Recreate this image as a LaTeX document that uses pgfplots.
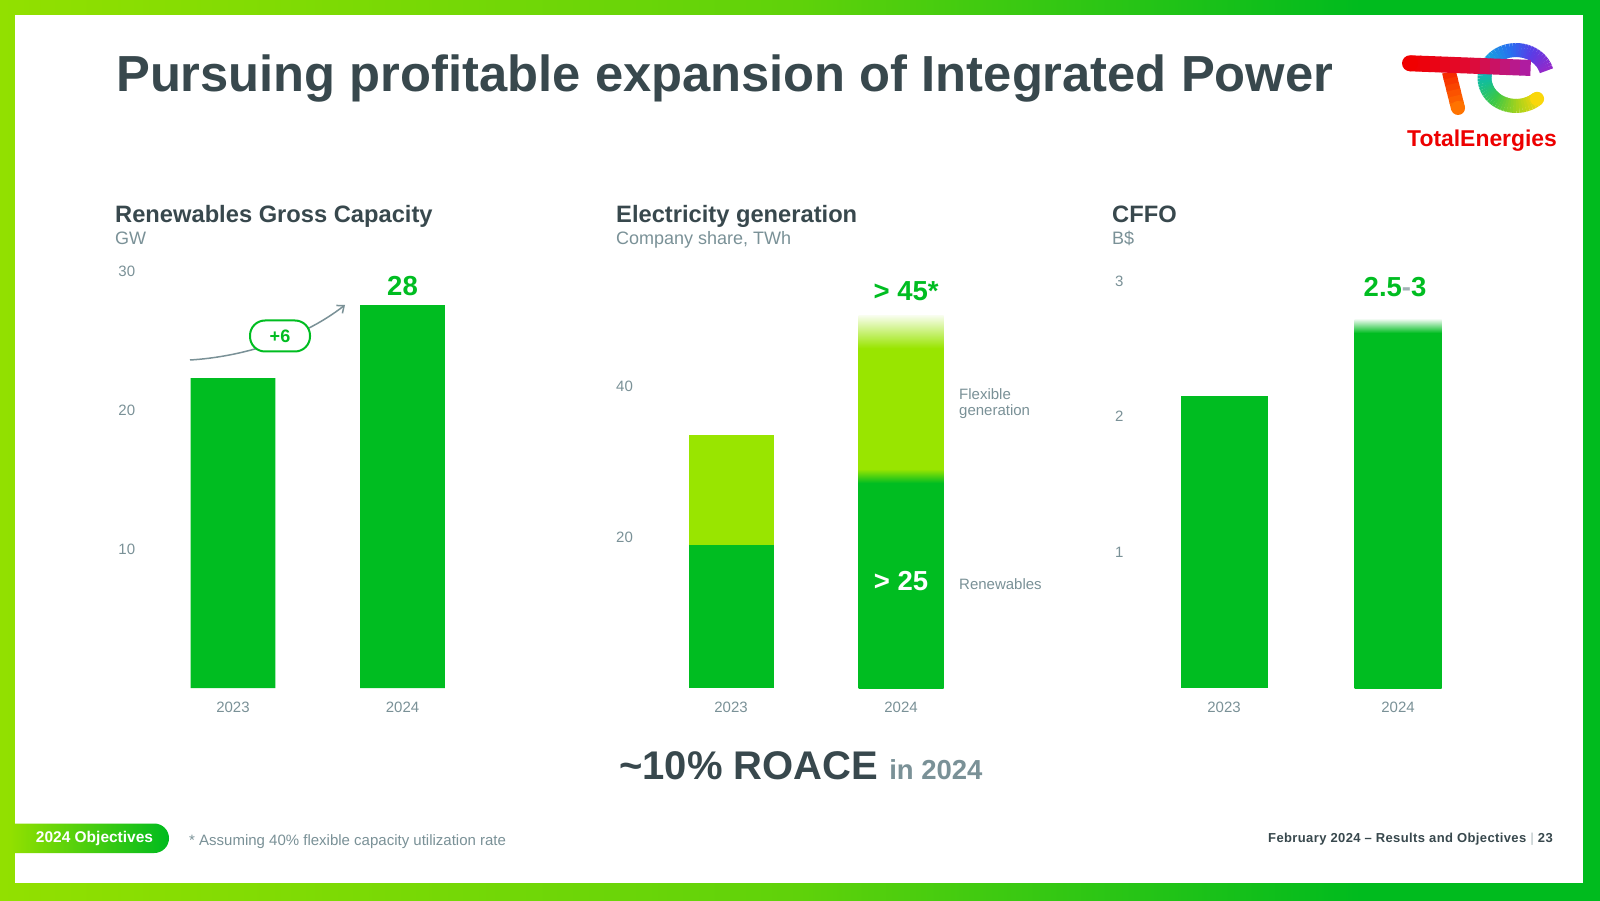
\documentclass[border=0pt]{standalone}
\usepackage{fontspec}
\setmainfont{Liberation Sans}
\newfontfamily\footfont[LetterSpace=3]{Liberation Sans}
\usepackage{pgfplots}
\pgfplotsset{compat=1.18}
\usetikzlibrary{arrows.meta}

\definecolor{G}{RGB}{0,189,33}
\definecolor{LG}{RGB}{153,229,0}
\definecolor{TD}{RGB}{56,72,77}
\definecolor{TG}{RGB}{122,145,151}
\definecolor{BL}{RGB}{146,224,0}
\definecolor{BM}{RGB}{95,210,10}
\definecolor{BR}{RGB}{0,187,30}
\definecolor{TRed}{RGB}{237,0,0}
\colorlet{LGf}{LG!8!white}
\colorlet{Gf}{G!12!white}
\definecolor{eA}{RGB}{150,40,200}
\definecolor{eB}{RGB}{90,60,230}
\definecolor{eC}{RGB}{40,110,240}
\definecolor{eD}{RGB}{20,170,220}
\definecolor{eE}{RGB}{20,190,150}
\definecolor{eF}{RGB}{60,200,70}
\definecolor{eG}{RGB}{160,210,30}
\definecolor{eH}{RGB}{250,215,10}
\definecolor{cA}{RGB}{240,0,0}
\definecolor{cB}{RGB}{225,10,50}
\definecolor{cC}{RGB}{170,30,170}
\definecolor{sA}{RGB}{245,35,0}
\definecolor{sB}{RGB}{255,115,0}

\pgfdeclareverticalshading{elec24}{100bp}{color(0bp)=(G); color(25bp)=(G); color(52.54bp)=(G); color(54.41bp)=(LG); color(70.64bp)=(LG); color(75bp)=(LGf); color(100bp)=(LGf)}
\pgfdeclareverticalshading{cffo24}{100bp}{color(0bp)=(G); color(25bp)=(G); color(73.23bp)=(G); color(75bp)=(Gf); color(100bp)=(Gf)}
\pgfdeclarehorizontalshading{frame}{100bp}{color(0bp)=(BL); color(25bp)=(BL); color(50bp)=(BM); color(67.5bp)=(BR); color(100bp)=(BR)}

\pgfplotsset{
  myaxis/.style={
    scale only axis, anchor=south west, clip=false,
    xmin=-0.5, xmax=1.5, ymin=0,
    axis x line*=bottom, axis y line*=left,
    axis line style={draw=none}, tick style={draw=none}, major tick length=0pt,
    xtick={0,1}, xticklabels={2023,2024},
    /pgf/number format/assume math mode=true,
    xticklabel style={anchor=center, yshift=-19pt, inner sep=0pt, text=TG, font=\fontsize{15}{15}\selectfont},
    yticklabel style={anchor=west, inner sep=0pt, text=TG, font=\fontsize{15}{15}\selectfont},
  },
  gbar/.style={ybar, bar width=0.5, bar shift=0pt, draw=none},
}

\begin{document}
\begin{tikzpicture}[x=1pt, y=1pt]
% frame
\shade[shading=frame] (0,0) rectangle (1600,900);
\fill[white] (15,17) rectangle (1583,885);
\coordinate (A1) at (148.25,212);
\coordinate (A2) at (646,212);
\coordinate (A3) at (1137,212);

% title
\node[anchor=base west, inner sep=0pt, text=TD, font=\bfseries\fontsize{50.7}{55}\selectfont] at (116,808) {Pursuing profitable expansion of Integrated Power};

% logo
\foreach \k in {0,...,5}{
  \pgfmathsetmacro\p{100-100*(\k+0.5)/6}
  \pgfmathsetmacro\ya{828-6*\k}
  \pgfmathsetmacro\yb{828-6*(\k+1)-0.6}
  \pgfmathsetmacro\xa{1449+1.5*\k}
  \pgfmathsetmacro\xb{1449+1.5*(\k+1)}
  \draw[line width=14pt, color=sA!\p!sB] (\xa,\ya) -- (\xb,\yb);
}
\fill[sB] (1458,792) circle (7pt);
\foreach \sa/\ea/\ca/\cb in {15/60/eA/eB, 60/100/eB/eC, 100/150/eC/eD, 150/190/eD/eE, 190/230/eE/eF, 230/270/eF/eG, 270/312/eG/eH}{
  \foreach \k in {0,...,7}{
    \pgfmathsetmacro\s{\sa+(\ea-\sa)*\k/8}
    \pgfmathsetmacro\e{\sa+(\ea-\sa)*(\k+1)/8+0.8}
    \pgfmathsetmacro\p{100-100*(\k+0.5)/8}
    \draw[line width=14pt, color=\ca!\p!\cb] (1516,822) ++(\s:31.5 and 28) arc[start angle=\s, end angle=\e, x radius=31.5, y radius=28];
  }
}
\fill[eH] (1516,822) ++(312:31.5 and 28) circle (7pt);
\foreach \k in {0,...,11}{
  \pgfmathsetmacro\xa{1410+10*\k}
  \pgfmathsetmacro\xb{1410+10*(\k+1)+0.6}
  \pgfmathsetmacro\ya{836.7-0.0385*10*\k}
  \pgfmathsetmacro\yb{836.7-0.0385*(10*(\k+1)+0.6)}
  \pgfmathsetmacro\p{\k<6 ? 100-100*(\k+0.5)/6 : 100-100*(\k-6+0.5)/6}
  \ifnum\k<6
    \draw[line width=16pt, color=cA!\p!cB] (\xa,\ya) -- (\xb,\yb);
  \else
    \draw[line width=16pt, color=cB!\p!cC] (\xa,\ya) -- (\xb,\yb);
  \fi
}
\fill[cA] (1410,836.7) circle (8pt);
\node[anchor=base west, inner sep=0pt, text=TRed, font=\bfseries\fontsize{22.9}{24}\selectfont] at (1407,753) {TotalEnergies};

% section titles
\node[anchor=base west, inner sep=0pt, text=TD, font=\bfseries\fontsize{23.7}{26}\selectfont] at (115,677) {Renewables Gross Capacity};
\node[anchor=base west, inner sep=0pt, text=TG, font=\fontsize{18}{20}\selectfont] at (115,655.7) {GW};
\node[anchor=base west, inner sep=0pt, text=TD, font=\bfseries\fontsize{23.7}{26}\selectfont] at (616,677) {Electricity generation};
\node[anchor=base west, inner sep=0pt, text=TG, font=\fontsize{18}{20}\selectfont] at (616,655.7) {Company share, TWh};
\node[anchor=base west, inner sep=0pt, text=TD, font=\bfseries\fontsize{23.7}{26}\selectfont] at (1112,677) {CFFO};
\node[anchor=base west, inner sep=0pt, text=TG, font=\fontsize{18}{20}\selectfont] at (1112,655.7) {B\$};

% chart 1
\begin{axis}[myaxis, at={(A1)}, width=339pt, height=417pt, ymax=30, ytick={10,20,30},
  yticklabel style={xshift=-30pt}]
\addplot[gbar, fill=G] coordinates {(0,22.3) (1,27.55)};
\node[text=G, font=\bfseries\fontsize{27.5}{28}\selectfont] at (axis cs:1,28.9) {28};
\end{axis}
\draw[TG, line width=1.5pt, -{Straight Barb[length=6pt, width=10pt]}] (190,540) .. controls (240,543) and (300,560) .. (345,595);
\node[draw=G, line width=2pt, fill=white, rounded corners=15pt, minimum width=60pt, minimum height=31pt, inner sep=0pt, text=G, font=\bfseries\fontsize{18}{18}\selectfont] at (280,564) {+6};

% chart 2
\begin{axis}[myaxis, at={(A2)}, width=340pt, height=377.5pt, ymax=50, ytick={20,40},
  yticklabel style={xshift=-30pt}]
\addplot[gbar, fill=LG] coordinates {(0,33.55)};
\addplot[gbar, fill=G] coordinates {(0,18.94)};
\addplot[gbar, shade, shading=elec24] coordinates {(1,49.3)};
\node[text=G, font=\bfseries\fontsize{27.5}{28}\selectfont] at (axis cs:1.03,52.6) {> 45*};
\node[text=white, font=\bfseries\fontsize{27.5}{28}\selectfont] at (axis cs:1,14.2) {> 25};
\node[anchor=west, inner sep=0pt, align=left, text=TG, font=\fontsize{15}{16.3}\selectfont] at (axis cs:1.341,37.7) {Flexible\\generation};
\node[anchor=west, inner sep=0pt, text=TG, font=\fontsize{15}{16.3}\selectfont] at (axis cs:1.341,13.8) {Renewables};
\end{axis}

% chart 3
\begin{axis}[myaxis, at={(A3)}, width=348pt, height=407.1pt, ymax=3, ytick={1,2,3},
  yticklabel style={xshift=-22pt}]
\addplot[gbar, fill=G] coordinates {(0,2.15)};
\addplot[gbar, shade, shading=cffo24] coordinates {(1,2.712)};
\node[font=\bfseries\fontsize{27.5}{28}\selectfont] at (axis cs:0.983,2.955) {\textcolor{G}{2.5}\textcolor{TG!70}{-}\textcolor{G}{3}};
\end{axis}

% ROACE
\node[anchor=base west, inner sep=0pt] at (619,121) {\fontsize{40}{40}\selectfont\bfseries\color{TD}\textasciitilde 10\% ROACE \fontsize{27.5}{28}\selectfont\color{TG}in 2024};

% footer
\shade[left color=BL, right color=BR] (10,47) -- (154.25,47) arc[start angle=-90, end angle=90, radius=14.75] -- (10,76.5) -- cycle;
\node[inner sep=0pt, text=white, font=\bfseries\fontsize{15.5}{16}\selectfont] at (94.5,62) {2024 Objectives};
\node[anchor=base west, inner sep=0pt, text=TG, font=\fontsize{15}{16}\selectfont] at (189,54.6) {* Assuming 40\% flexible capacity utilization rate};
\node[anchor=base east, inner sep=0pt, font=\footfont\bfseries\fontsize{13}{14}\selectfont] at (1553,57.3) {\textcolor{TD}{February 2024 – Results and Objectives} \textcolor{TG!40}{|} \textcolor{TD}{23}};
\end{tikzpicture}
\end{document}
